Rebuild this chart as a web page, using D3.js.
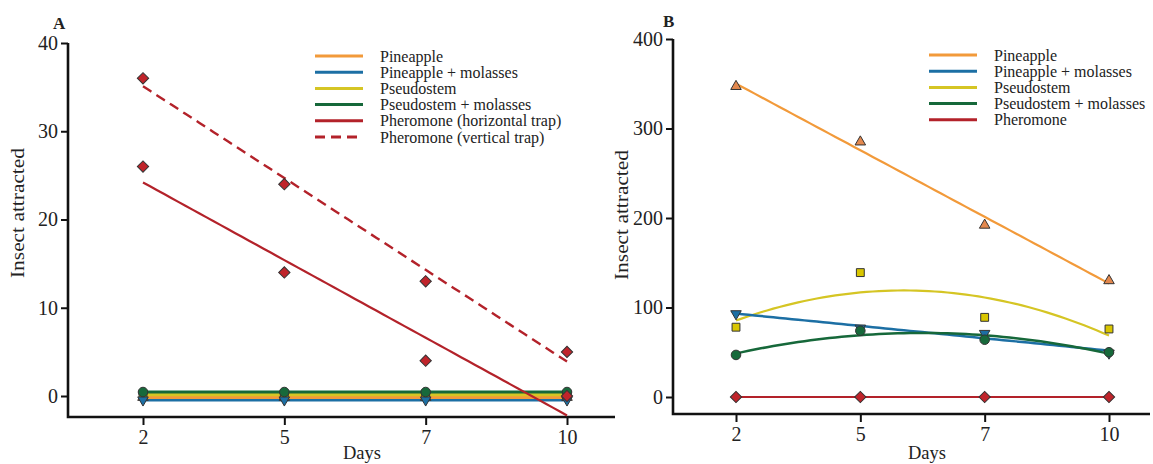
<!DOCTYPE html>
<html><head><meta charset="utf-8">
<script src="https://cdn.jsdelivr.net/npm/d3@7"></script>
<style>
body{margin:0;background:#fff}
svg{display:block}
text{font-family:"Liberation Serif","Times New Roman",serif;fill:#222}
</style>
</head><body>
<svg id="c" width="1153" height="464"></svg>
<script>
// ---------- data ----------
const days = ["2", "5", "7", "10"];
const yTicksA = [0, 10, 20, 30, 40];
const yTicksB = [0, 100, 200, 300, 400];
const legendA = ["Pineapple", "Pineapple + molasses", "Pseudostem", "Pseudostem + molasses", "Pheromone (horizontal trap)", "Pheromone (vertical trap)"];
const legendB = ["Pineapple", "Pineapple + molasses", "Pseudostem", "Pseudostem + molasses", "Pheromone"];

// Panel A (values as plotted; the four food baits sit at ~0)
const aPineapple = [-0.15, -0.15, -0.15, -0.15];
const aPineappleMolasses = [-0.45, -0.45, -0.45, -0.45];
const aPseudostem = [0.15, 0.15, 0.15, 0.15];
const aPseudostemMolasses = [0.45, 0.45, 0.45, 0.45];
const aPheromoneHorizontal = [26, 14, 4, 0];
const aPheromoneVertical = [36, 24, 13, 5];

// Panel B
const bPineapple = [347, 285, 192, 130];
const bPineappleMolasses = [93, 77, 71, 49];
const bPseudostem = [78, 139, 89, 76];
const bPseudostemMolasses = [47, 74, 64, 50];
const bPheromone = [0, 0, 0, 0];

// ---------- styles ----------
const C = {
  orange: "#F29A3A", orangeFill: "#E3884E",
  blue: "#1C6FA4", blueFill: "#1C6FA4",
  yellow: "#D5C524", yellowFill: "#D9C600",
  green: "#16683A", greenFill: "#17693B",
  red: "#B3222A", redFill: "#C0242B",
  outline: "#333"
};

const svg = d3.select("#c");

// ---------- fits ----------
function polyFit(vals, deg) {
  const n = deg + 1;
  const M = Array.from({length: n}, () => new Array(n + 1).fill(0));
  vals.forEach((v, i) => {
    for (let r = 0; r < n; r++) {
      for (let c = 0; c < n; c++) M[r][c] += Math.pow(i, r + c);
      M[r][n] += v * Math.pow(i, r);
    }
  });
  for (let p = 0; p < n; p++) {
    let best = p;
    for (let r = p + 1; r < n; r++) if (Math.abs(M[r][p]) > Math.abs(M[best][p])) best = r;
    [M[p], M[best]] = [M[best], M[p]];
    for (let r = 0; r < n; r++) {
      if (r === p) continue;
      const f = M[r][p] / M[p][p];
      for (let c = p; c <= n; c++) M[r][c] -= f * M[p][c];
    }
  }
  const coef = M.map((row, i) => row[n] / row[i]);
  return t => coef.reduce((s, a, k) => s + a * Math.pow(t, k), 0);
}
function fitPoints(vals, deg) {
  const f = polyFit(vals, deg);
  return d3.range(0, vals.length - 1 + 1e-9, 0.05).map(t => [t, f(t)]);
}

// ---------- marker symbols ----------
const sym = {
  triUp: d3.symbol(d3.symbolTriangle, 48)(),
  triDown: d3.symbol(d3.symbolTriangle, 48)(),
  square: d3.symbol(d3.symbolSquare, 62)(),
  diamond: d3.symbol(d3.symbolSquare, 64)(),
  circle: d3.symbol(d3.symbolCircle, 72)()
};
const symRot = {triUp: 0, triDown: 180, square: 0, diamond: 45, circle: 0};

function drawMarkers(g, vals, x, y, kind, fill) {
  g.append("g").selectAll("path").data(vals).join("path")
    .attr("d", sym[kind])
    .attr("transform", (d, i) => `translate(${x(days[i])},${y(d)}) rotate(${symRot[kind]})`)
    .attr("fill", fill).attr("stroke", C.outline).attr("stroke-width", 1);
}
function drawPath(g, pts, xl, y, color, width, dash) {
  g.append("path").datum(pts)
    .attr("d", d3.line().x(d => xl(d[0])).y(d => y(d[1])))
    .attr("fill", "none").attr("stroke", color).attr("stroke-width", width)
    .attr("stroke-dasharray", dash || null);
}

// ---------- panel builder ----------
function panel(opt) {
  const g = svg.append("g");
  const x = d3.scalePoint().domain(days).range(opt.xr);
  const xl = d3.scaleLinear().domain([0, days.length - 1]).range(opt.xr);
  const y = d3.scaleLinear().domain(opt.yd).range(opt.yr);

  // axes
  const ya = g.append("g").attr("transform", `translate(${opt.ax},0)`)
    .call(d3.axisLeft(y).tickValues(opt.yticks).tickSize(7).tickPadding(3).tickFormat(d3.format("d")));
  ya.select(".domain").remove();
  ya.selectAll(".tick line").attr("stroke", "#111").attr("stroke-width", 2);
  ya.selectAll(".tick text").style("font-family", '"Liberation Serif",serif').style("font-size", "20px").attr("fill", "#2a2a2a");

  const xa = g.append("g").attr("transform", `translate(0,${opt.ay})`)
    .call(d3.axisBottom(x).tickSize(8).tickPadding(5));
  xa.select(".domain").remove();
  xa.selectAll(".tick line").attr("stroke", "#111").attr("stroke-width", 2);
  xa.selectAll(".tick text").style("font-family", '"Liberation Serif",serif').style("font-size", "20px").attr("fill", "#2a2a2a");

  g.append("path")
    .attr("d", `M${opt.ax},${y(opt.yd[1])}V${opt.ay}H${opt.axEnd}`)
    .attr("fill", "none").attr("stroke", "#111").attr("stroke-width", 2.6);

  // labels
  g.append("text").attr("x", opt.daysX).attr("y", 459).attr("text-anchor", "middle")
    .style("font-size", "18.5px").text("Days");
  g.append("text").attr("transform", `translate(${opt.ylabX},${opt.ylabY}) rotate(-90)`)
    .attr("text-anchor", "middle").attr("dy", "0.35em").style("font-size", "18.5px")
    .attr("textLength", 130).attr("lengthAdjust", "spacingAndGlyphs").text("Insect attracted");
  g.append("text").attr("x", opt.letterX).attr("y", opt.letterY).style("font-size", "17px")
    .style("font-weight", "bold").text(opt.letter);

  return {g, x, xl, y};
}

// ---------- Panel A ----------
const A = panel({xr: [143, 567], yd: [0, 40], yr: [396, 43], ax: 68, ay: 417, axEnd: 615,
  yticks: yTicksA, daysX: 362, ylabX: 18, ylabY: 213, letter: "A", letterX: 53, letterY: 29});
{
  const {g, x, xl, y} = A;
  drawPath(g, fitPoints(aPineappleMolasses, 0), xl, y, C.blue, 3);
  drawPath(g, fitPoints(aPineapple, 0), xl, y, C.orange, 3.2);
  drawPath(g, fitPoints(aPseudostem, 0), xl, y, C.yellow, 3.2);
  drawPath(g, fitPoints(aPseudostemMolasses, 0), xl, y, C.green, 3);
  drawMarkers(g, aPineapple, x, y, "triUp", C.orangeFill);
  drawMarkers(g, aPseudostem, x, y, "square", C.yellowFill);
  drawMarkers(g, aPineappleMolasses, x, y, "triDown", C.blueFill);
  drawMarkers(g, aPseudostemMolasses, x, y, "circle", C.greenFill);
  drawPath(g, fitPoints(aPheromoneHorizontal, 1), xl, y, C.red, 2.2);
  drawPath(g, fitPoints(aPheromoneVertical, 1), xl, y, C.red, 2.4, "10,6");
  drawMarkers(g, aPheromoneHorizontal, x, y, "diamond", C.redFill);
  drawMarkers(g, aPheromoneVertical, x, y, "diamond", C.redFill);

  const lg = g.append("g");
  const lc = [C.orange, C.blue, C.yellow, C.green, C.red, C.red];
  legendA.forEach((t, i) => {
    const yy = 56 + i * 16.2;
    lg.append("line").attr("x1", 315).attr("x2", 363).attr("y1", yy).attr("y2", yy)
      .attr("stroke", lc[i]).attr("stroke-width", 3).attr("stroke-dasharray", i === 5 ? "10,6" : null);
    lg.append("text").attr("x", 380).attr("y", yy + 5.5).style("font-size", "16px").text(t);
  });
}

// ---------- Panel B ----------
const B = panel({xr: [736, 1109], yd: [0, 400], yr: [397, 39], ax: 673, ay: 414, axEnd: 1150,
  yticks: yTicksB, daysX: 927, ylabX: 622, ylabY: 215, letter: "B", letterX: 663, letterY: 27});
{
  const {g, x, xl, y} = B;
  drawPath(g, fitPoints(bPineapple, 1), xl, y, C.orange, 2.2);
  drawPath(g, fitPoints(bPseudostem, 2), xl, y, C.yellow, 2.2);
  drawPath(g, fitPoints(bPineappleMolasses, 1), xl, y, C.blue, 2.5);
  drawPath(g, fitPoints(bPseudostemMolasses, 2), xl, y, C.green, 2.5);
  drawPath(g, fitPoints(bPheromone, 0), xl, y, C.red, 2.2);
  drawMarkers(g, bPineapple, x, y, "triUp", C.orangeFill);
  drawMarkers(g, bPseudostem, x, y, "square", C.yellowFill);
  drawMarkers(g, bPineappleMolasses, x, y, "triDown", C.blueFill);
  drawMarkers(g, bPseudostemMolasses, x, y, "circle", C.greenFill);
  drawMarkers(g, bPheromone, x, y, "diamond", C.redFill);

  const lg = g.append("g");
  const lc = [C.orange, C.blue, C.yellow, C.green, C.red];
  legendB.forEach((t, i) => {
    const yy = 55 + i * 16.2;
    lg.append("line").attr("x1", 929).attr("x2", 977).attr("y1", yy).attr("y2", yy)
      .attr("stroke", lc[i]).attr("stroke-width", 3);
    lg.append("text").attr("x", 994).attr("y", yy + 5.5).style("font-size", "16px").text(t);
  });
}
</script>
</body></html>
